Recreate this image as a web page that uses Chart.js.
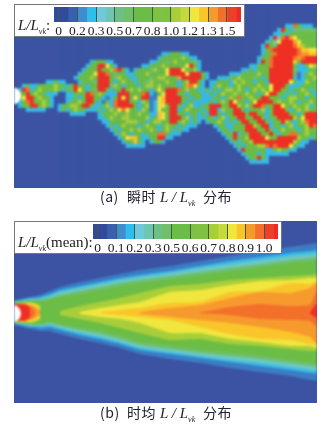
<!DOCTYPE html>
<html>
<head>
<meta charset="utf-8">
<title>L/Lvk</title>
<script src="https://cdn.jsdelivr.net/npm/chart.js@4"></script>
<style>
  html, body { margin: 0; padding: 0; background: #fff; }
  #page { position: relative; width: 333px; height: 428px; overflow: hidden; font-family: "Liberation Serif", serif; color: #222; }
  .panel { position: absolute; left: 14px; width: 303px; background: #3b53a2; overflow: hidden; }
  .panel canvas { display: block; filter: blur(1px); }
  .legend { position: absolute; left: 14px; background: #fff; border: 1px solid #777; box-sizing: border-box; }
  .legend canvas { position: absolute; left: 0; top: 0; }
  .name { position: absolute; font-size: 15px; font-style: italic; white-space: nowrap; }
  .name span { font-style: normal; }
  sub { font-size: 8px; line-height: 0; }
  .caption { position: absolute; left: 100px; font-size: 14px; white-space: nowrap; color: #223; }
  .caption b { position: absolute; top: 0; font-weight: normal; font-family: "Noto Sans CJK SC", sans-serif; letter-spacing: 0.5px; }
  .caption i { position: absolute; top: 3px; font-size: 15px; font-family: "Liberation Serif", serif; }
</style>
</head>
<body>
<div id="page">
  <div class="panel" style="top:4px;height:184px"><canvas id="gridChart" width="303" height="184"></canvas></div>
  <div class="legend" style="top:4px;width:231px;height:33px">
    <canvas id="legendA" width="229" height="31"></canvas>
    <div class="name" style="left:3px;top:12px">L/L<sub>vk</sub><span>:</span></div>
  </div>
  <div class="caption" style="top:186px">
    <b style="left:0">(a)</b><b style="left:27px">瞬时</b><i style="left:60px">L / L<sub>vk</sub></i><b style="left:103px">分布</b>
  </div>

  <div class="panel" style="top:221px;height:182px"><canvas id="bandChart" width="303" height="182"></canvas></div>
  <div class="legend" style="top:221px;width:268px;height:33px">
    <canvas id="legendB" width="266" height="31"></canvas>
    <div class="name" style="left:3px;top:12px">L/L<sub>vk</sub><span>(mean):</span></div>
  </div>
  <div class="caption" style="top:402px">
    <b style="left:0">(b)</b><b style="left:27px">时均</b><i style="left:60px">L / L<sub>vk</sub></i><b style="left:103px">分布</b>
  </div>
</div>

<script>
// colours of the contour levels, 0 = background
var levelColors = {
  0: "#3b53a2", 1: "#3c7cc4", 2: "#36bbe8", 3: "#6ec8c0", 4: "#6dc070", 5: "#6cbd45",
  6: "#a8cf3a", 7: "#f0e63e", 8: "#f9c52a", 9: "#f79a2e", a: "#f3702a", b: "#ee3024",
};

// colour bars
var barWidths = [0.25, 0.5, 0.5, 0.5, 0.5, 0.5, 0.5, 0.5, 0.5, 0.5, 0.5, 0.5, 0.5, 0.5, 0.5, 0.5, 0.5, 0.5, 0.5, 0.5, 0.25];
var barColors = ["#324a9c", "#324a9c", "#3a5fb0", "#3f8dcf", "#2fbdee", "#6fc9dc", "#6cc6b0", "#6cc084", "#6fc066", "#6abd45", "#6abd45",
  "#7fc242", "#7fc242", "#a8cf3a", "#c5d93c", "#f0e63e", "#f9c52a", "#f79a2e", "#f3702a", "#ee4029", "#ec2a26"];
var tickPlaces = [0.25, 1.25, 2.25, 3.25, 4.25, 5.25, 6.25, 7.25, 8.25, 9.25];
var tickLabelsA = ["0", "0.2", "0.3", "0.5", "0.7", "0.8", "1.0", "1.2", "1.3", "1.5"];
var tickLabelsB = ["0", "0.1", "0.2", "0.3", "0.5", "0.6", "0.7", "0.8", "0.9", "1.0"];

// (a) instantaneous field, one level per cell, z = ten background cells
var gridA = [
  "", "", "", "", "",
  "z z z z z z 0000000022 a52220",
  "z z z z z z 0000002b52 444444",
  "z z z z z z 0000022525 555555",
  "z z z z z z 00002b3ab9 755555",
  "z z z z z z 0002537bbb 975555",
  "z z z z z z 002b54bbbb a86555",
  "z z z z z z 0025abbbbb ba8877",
  "z z z 0000000225 5522000000 z 00255abbbb ba9988",
  "z z z 0000002555 5565220000 z 0255abbbbb a9abbb",
  "z 0000000002 5552200000 0000225545 6555542000 z 02b5abbbbb 85bbbb",
  "z 0000000025 5bb7520000 0022555655 5557b52000 0000000002 2555abbbbb 522576",
  "z 0000000255 5b556ab520 255546557b bb75562000 0000000225 2555bbbbbb 422255",
  "z 0000002555 7bba545522 555655557b bbb7bbb520 0000222555 5655bbbbbb 512565",
  "z 0000025556 5bbb546552 2555456655 59bbbbb520 0222556555 4525bbbbbb 212556",
  "0000000022 5220002555 4bbb525655 2554655565 5256bb5202 2555265655 2552bbbbb7 522655",
  "0025225555 65525b5525 5bbb465255 5256656555 5259a75202 5655256555 56557bbb52 225555",
  "02ba256555 65255b7525 4bb5255b56 56552575bb ba56552252 5256656525 65657bb552 556525",
  "055b565522 20022555ba 565222bbb5 55ab2157bb b552555225 2565565565 5257bb5525 255652",
  "057bb56552 00022525bb 552125b7b5 75bb1178bb bb55255222 552565a556 55bb555256 655255",
  "025ab55652 00025565bb 52152abbb5 52651278bb bb52522225 2565b75525 7bbbb56556 525565",
  "0255bb5652 0255665bb5 22562abbbb 525612775b b52562255b bb55bb6565 bba55bb755 655625",
  "0002222200 0252565522 2525657a75 526512755b b25655525b b2655bb525 55625bbb52 565655",
  "z 0000222200 0255565565 565522875b b55255252b b5255bbb5b b5525bbbb5 525bbb",
  "z z 0225655665 555625875b bb56252255 256255bb55 bb5255bbbb 657bbb",
  "z z 0022555566 655256655b b565252025 5652525bb5 5bb5255b65 256abb",
  "z z 0002525655 5256552565 5252220000 25522555bb 65bb255256 2556ba",
  "z z 0000252556 5655652565 2522000000 02552555bb b55b525655 525655",
  "z z 0000025652 552555aa52 2200000000 00255b255b bb55b5255a a55655",
  "z z 0000002578 852255bb22 z 00025b556b bbb755bbbb b65525",
  "z z 0000000255 8520255200 z 0000252556 bbbbbbbbbb 652200",
  "z z 0000000022 2220000000 z 0000025255 566ababbb7 522000",
  "z z z z z 0000002b55 5552256552 200000",
  "z z z z z 0000000255 5252222220",
  "z z z z z 0000000025 5b52000000",
  "z z z z z 0000000002 2222000000",
];
var gridCols = 76;
var gridRows = 46;

// (b) mean field: half widths of each contour above/below the wake axis
var n = null;
var stations = [14, 20, 25, 30, 35, 40, 50, 60, 80, 100, 120, 140, 170, 200, 230, 260, 290, 310, 317];
var blueUp = [12, 14, 15, 16, 17, 18, 22, 26, 31, 35, 39, 43, 47, 52, 57, 62, 66, 69, 70];
var blueLo = [12, 13, 15, 16, 17, 18, 18, 21, 26, 30, 35, 41, 46, 50, 55, 59, 63, 67, 68];
var cyanUp = [12, 13, 14, 15, 15, 16, 19, 23, 27, 31, 35, 38, 42, 47, 52, 56, 60, 62, 63];
var cyanLo = [11, 12, 13, 14, 14, 15, 14, 17, 22, 26, 31, 37, 41, 45, 49, 53, 57, 60, 61];
var tealUp = [12, 12, 13, 14, 14, 14, 17, 21, 25, 29, 33, 36, 40, 45, 49, 53, 57, 59, 60];
var tealLo = [10, 11, 12, 13, 13, 13, 12, 15, 20, 24, 29, 35, 39, 43, 47, 50, 54, 57, 58];
var mintUp = [11, 12, 12, 13, 13, 13, 15, 18, 22, 26, 30, 33, 37, 41, 45, 49, 53, 55, 56];
var mintLo = [10, 10, 11, 12, 12, 12, 10, 13, 17, 21, 26, 32, 36, 40, 43, 46, 50, 53, 54];
var greenUp = [10, 11, 11, 12, 12, 12, 14, 16, 19, 23, 27, 30, 34, 38, 42, 46, 50, 52, 53];
var greenLo = [9, 10, 10, 11, 11, 11, 9, 11, 15, 18, 23, 29, 33, 37, 40, 43, 47, 50, 51];
var oliveUp = [9, 10, 10, 11, 10, 8, n, 2, 7, 11, 15, 20, 27, 29, 33, 35, 37, 38, 39];
var oliveLo = [8, 9, 9, 10, 9, 7, n, 2, 6, 10, 15, 20, 27, 26, 31, 33, 36, 38, 38];
var yellowUp = [9, 9, 10, 10, 9, 6, n, n, 1, 5, 8, 11, 21, 23, 28, 32, 33, 35, 35];
var yellowLo = [8, 9, 9, 9, 8, 5, n, n, 1, 4, 6, 10, 20, 20, 26, 29, 33, 33, 35];
var amberUp = [9, 9, 9, 9, 8, 4, n, n, n, 0.5, 3, 5, 10, 11, 21, 22, 30, 29, 32];
var amberLo = [8, 8, 8, 8, 7, 3, n, n, n, 0.5, 2, 4, 7, 14, 21, 26, 27, 31, 32];
var orangeUp = [9, 9, 9, 8, 6, 2, n, n, n, n, n, 1, 5, 8, 15, 21, 20, 25, 30];
var orangeLo = [8, 8, 8, 7, 5, 1, n, n, n, n, n, 1, 4, 7, 10, 14, 19, 24, 31];
var flameUp = [9, 9, 9, 7, 3, n, n, n, n, n, n, n, n, 0.5, 6, 9, 7, 8, 23];
var flameLo = [8, 8, 8, 6, 2, n, n, n, n, n, n, n, n, 0.5, 2, 6, 7, 8, 14];
var redUp = [9, 9, 9, 5, n, n, n, n, n, n, n, n, n, n, n, n, n, 1, 10];
var redLo = [8, 8, 8, 4, n, n, n, n, n, n, n, n, n, n, n, n, n, 1, 5];

// the white cylinder, x in cells / px, radius in px
var cylinderA = { x: -0.375, y: 23 };
var cylinderB = { x: 12.5, y: -0.5 };

// ---- (a) cells as square scatter points
var cellPoints = [];
var cellColors = [];
gridA.forEach(function (row, r) {
  var cells = row.split(" ").map(function (t) { return t === "z" ? "0000000000" : t; }).join("").padEnd(gridCols, "0");
  for (var c = 0; c < gridCols; c++) {
    cellPoints.push({ x: c + 0.5, y: r + 0.5 });
    cellColors.push(levelColors[cells[c]]);
  }
});
for (var r = gridA.length; r < gridRows; r++) {
  for (var c = 0; c < gridCols; c++) {
    cellPoints.push({ x: c + 0.5, y: r + 0.5 });
    cellColors.push(levelColors[0]);
  }
}

new Chart(document.getElementById("gridChart"), {
  type: "scatter",
  data: {
    datasets: [
      { data: [cylinderA], pointRadius: 8.5, pointBackgroundColor: "#fff", pointBorderWidth: 0 },
      { data: cellPoints, pointStyle: "rect", pointRadius: 3, pointBackgroundColor: cellColors, pointBorderWidth: 0 },
    ],
  },
  options: {
    responsive: false,
    animation: false,
    events: [],
    layout: { autoPadding: false },
    plugins: { legend: { display: false }, tooltip: { enabled: false } },
    scales: {
      x: { type: "linear", display: false, min: 0, max: gridCols },
      y: { type: "linear", display: false, min: 0, max: gridRows, reverse: true },
    },
  },
});

// ---- (b) contour bands, innermost first so it ends up on top
var bands = [
  [redUp, redLo, "b"], [flameUp, flameLo, "a"], [orangeUp, orangeLo, 9], [amberUp, amberLo, 8],
  [yellowUp, yellowLo, 7], [oliveUp, oliveLo, 6], [greenUp, greenLo, 5], [mintUp, mintLo, 4],
  [tealUp, tealLo, 3], [cyanUp, cyanLo, 2], [blueUp, blueLo, 1],
];
var bandSets = [{ type: "scatter", data: [cylinderB], pointRadius: 8.5, pointBackgroundColor: "#fff", pointBorderWidth: 0, showLine: false }];
bands.forEach(function (b) {
  var upper = stations.map(function (x, i) { return { x: x, y: b[0][i] }; });
  var lower = stations.map(function (x, i) { return { x: x, y: b[1][i] === null ? null : -b[1][i] }; });
  var lineStyle = { pointRadius: 0, borderWidth: 0, tension: 0.1, spanGaps: false };
  bandSets.push(Object.assign({ data: upper, fill: bandSets.length + 1, backgroundColor: levelColors[b[2]] }, lineStyle));
  bandSets.push(Object.assign({ data: lower, fill: false }, lineStyle));
});

new Chart(document.getElementById("bandChart"), {
  type: "line",
  data: { datasets: bandSets },
  options: {
    responsive: false,
    animation: false,
    events: [],
    layout: { autoPadding: false },
    plugins: { legend: { display: false }, tooltip: { enabled: false } },
    scales: {
      x: { type: "linear", display: false, min: 14, max: 317 },
      y: { type: "linear", display: false, min: -90, max: 92 },
    },
  },
});

// ---- colour bars
function colourBar(id, labels, padLeft, padRight) {
  new Chart(document.getElementById(id), {
    type: "bar",
    data: {
      labels: [""],
      datasets: barWidths.map(function (w, i) {
        return { data: [w], backgroundColor: barColors[i], barPercentage: 1, categoryPercentage: 1 };
      }),
    },
    options: {
      indexAxis: "y",
      responsive: false,
      animation: false,
      events: [],
      layout: { padding: { left: padLeft, right: padRight, top: 2, bottom: 0 } },
      plugins: { legend: { display: false }, tooltip: { enabled: false } },
      scales: {
        x: {
          type: "linear",
          stacked: true,
          min: 0,
          max: 10,
          border: { display: false },
          grid: { color: "#45564a", lineWidth: 1, z: 1, drawTicks: false },
          afterBuildTicks: function (scale) {
            scale.ticks = tickPlaces.map(function (v) { return { value: v }; });
          },
          afterFit: function (scale) { scale.height = 14; },
          ticks: {
            autoSkip: false,
            maxRotation: 0,
            padding: 1,
            color: "#222",
            font: { family: "Liberation Serif", size: 13.5 },
            callback: function (value, index) { return labels[index]; },
          },
        },
        y: { stacked: true, display: false },
      },
    },
  });
}
colourBar("legendA", tickLabelsA, 39, 3);
colourBar("legendB", tickLabelsB, 78, 3);
</script>
</body>
</html>
